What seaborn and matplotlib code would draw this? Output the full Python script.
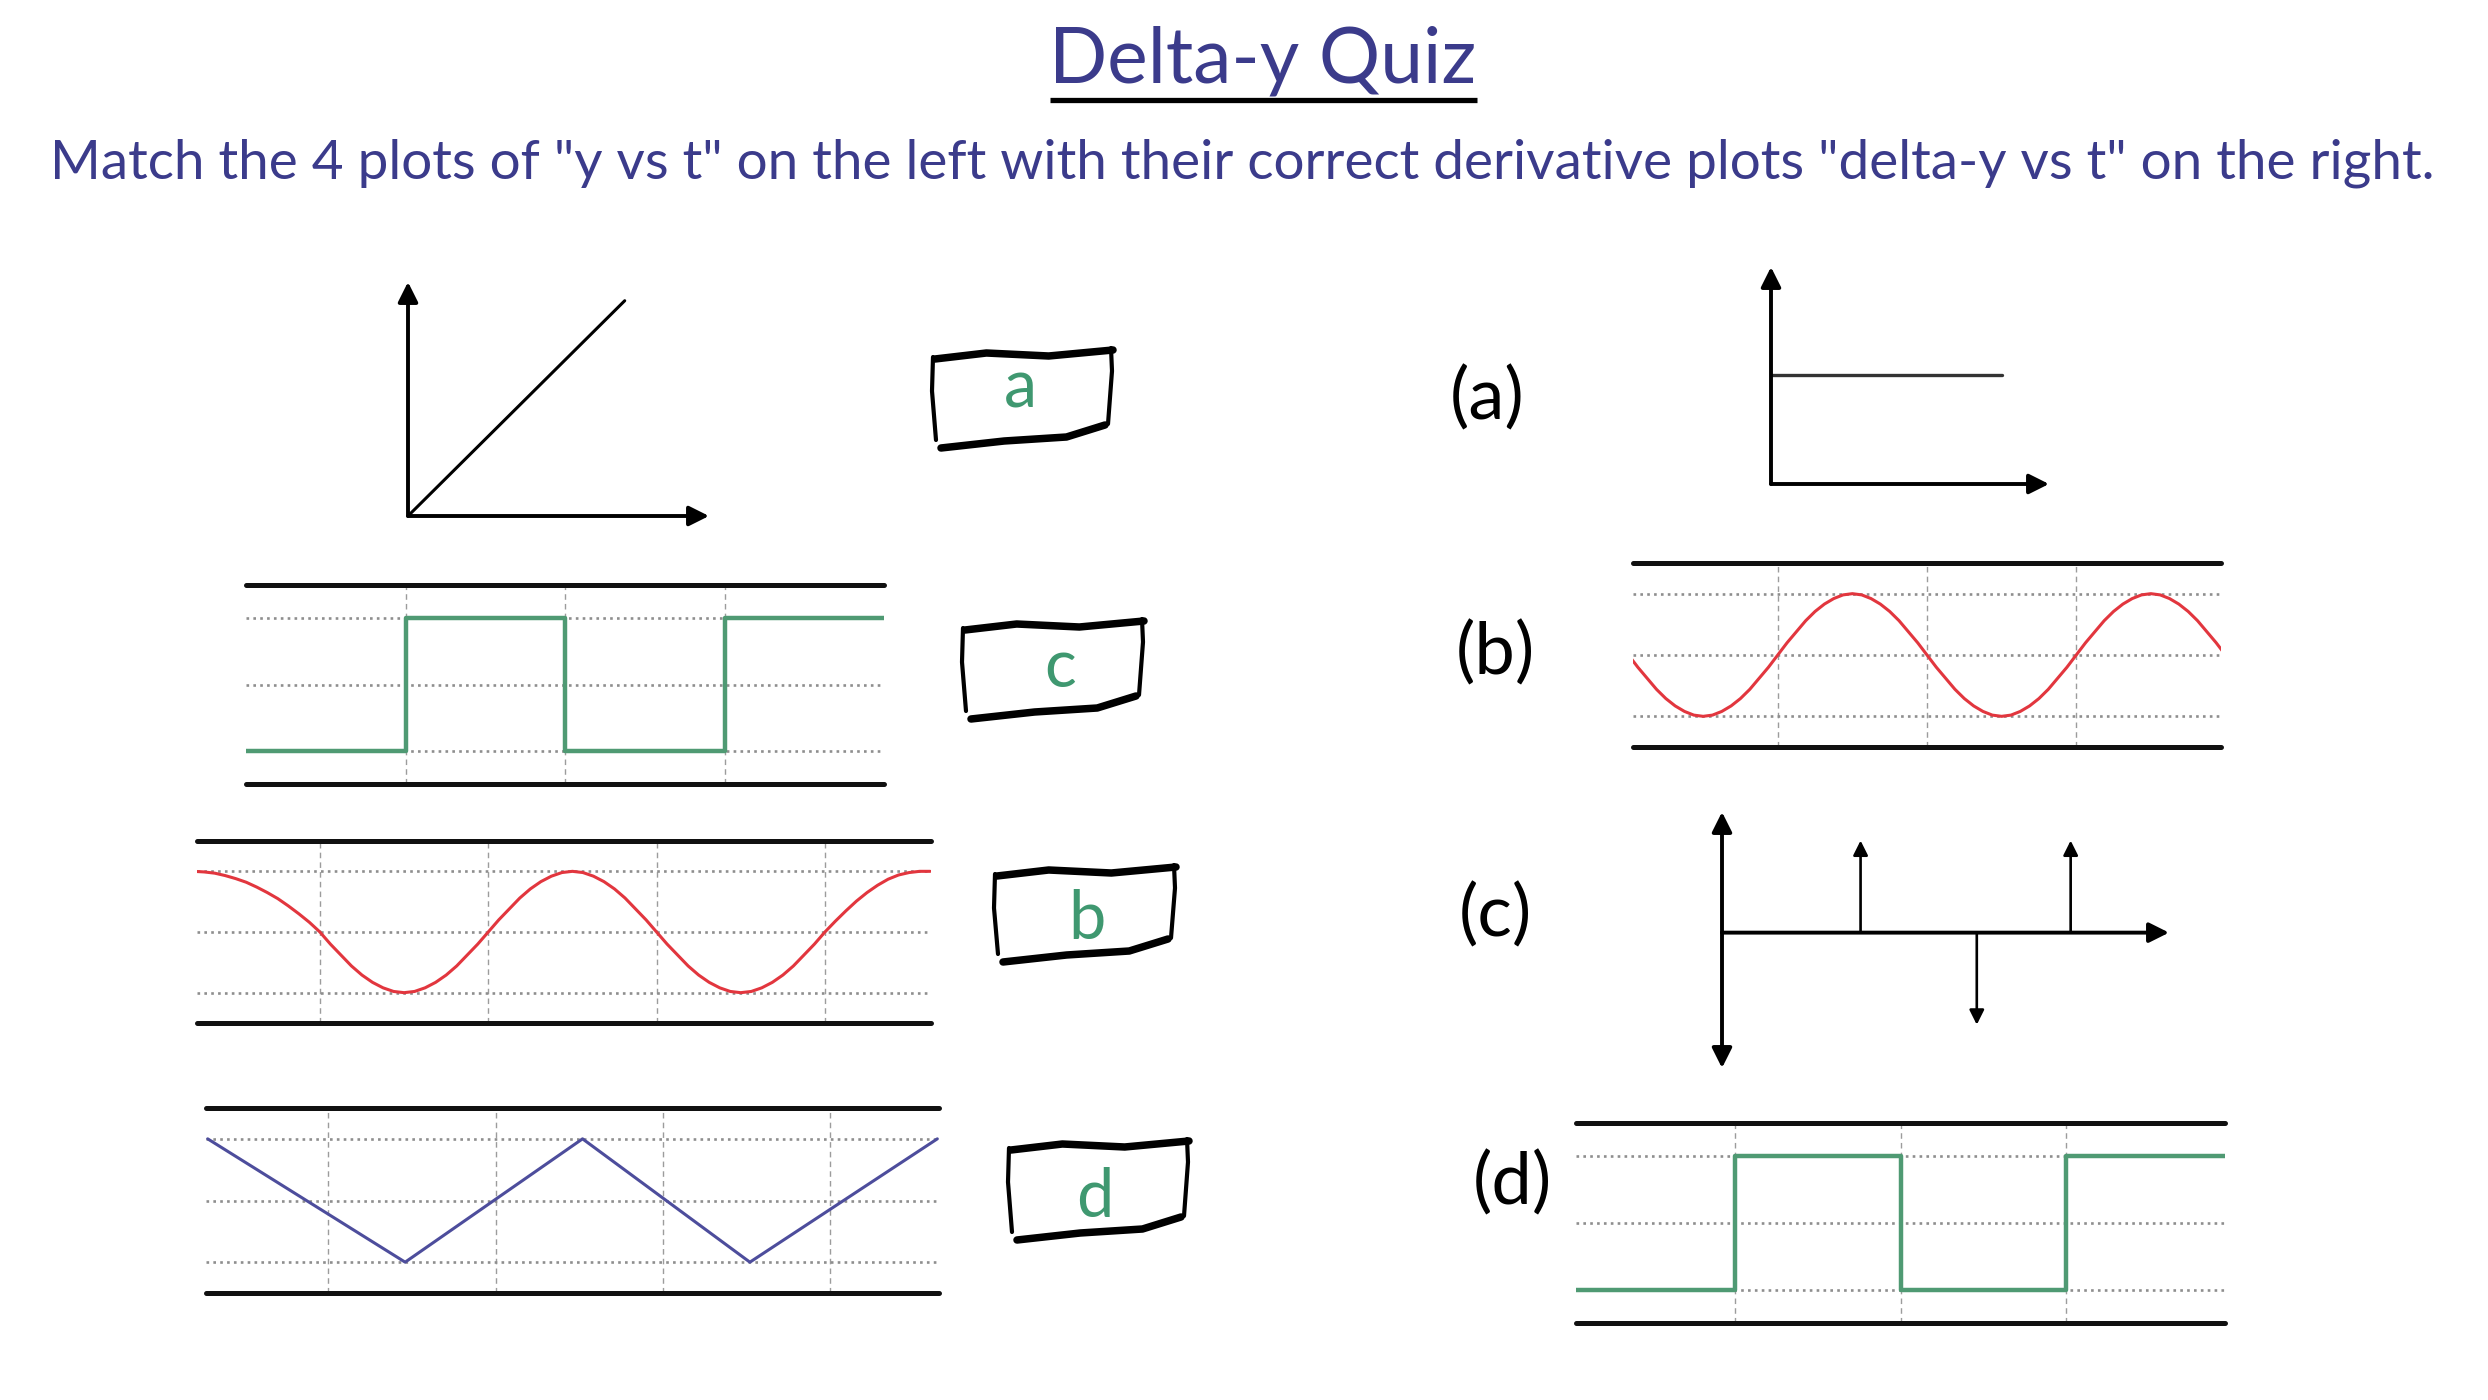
import matplotlib
matplotlib.use("Agg")
import matplotlib.pyplot as plt
import seaborn as sns
from matplotlib.lines import Line2D

# ---------------- data ----------------
TITLE = "Delta-y Quiz"
SUBTITLE = ('Match the 4 plots of "y vs t" on the left with their correct '
            'derivative plots "delta-y vs t" on the right.')
BOX_LETTERS = ["a", "c", "b", "d"]
RIGHT_LABELS = ["(a)", "(b)", "(c)", "(d)"]

# left column: y vs t
lin_t = [0.0, 0.72]
lin_y = [0.0, 0.92]

sq_t = [-1, 0, 1, 2, 3]
sq_y = [-1, 1, -1, 1, 1]

redL_t = [-0.75, -0.6875, -0.625, -0.5625, -0.5, -0.4375, -0.375, -0.3125,
          -0.25, -0.1875, -0.125, -0.0625,
          0.0, 0.0625, 0.125, 0.1875, 0.25, 0.3125, 0.375, 0.4375,
          0.5, 0.5625, 0.625, 0.6875, 0.75, 0.8125, 0.875, 0.9375,
          1.0, 1.0625, 1.125, 1.1875, 1.25, 1.3125, 1.375, 1.4375,
          1.5, 1.5625, 1.625, 1.6875, 1.75, 1.8125, 1.875, 1.9375,
          2.0, 2.0625, 2.125, 2.1875, 2.25, 2.3125, 2.375, 2.4375,
          2.5, 2.5625, 2.625, 2.6875, 2.75, 2.8125, 2.875, 2.9375,
          3.0, 3.0625, 3.125, 3.1875, 3.25, 3.3125, 3.375, 3.4375,
          3.5, 3.5625, 3.625]
redL_y = [1.00, 0.99, 0.97, 0.93, 0.88, 0.82, 0.74, 0.65,
          0.55, 0.43, 0.30, 0.16,
          0.00, -0.20, -0.38, -0.56, -0.71, -0.83, -0.92, -0.98,
          -1.00, -0.98, -0.92, -0.83, -0.71, -0.56, -0.38, -0.20,
          0.00, 0.20, 0.38, 0.56, 0.71, 0.83, 0.92, 0.98,
          1.00, 0.98, 0.92, 0.83, 0.71, 0.56, 0.38, 0.20,
          0.00, -0.20, -0.38, -0.56, -0.71, -0.83, -0.92, -0.98,
          -1.00, -0.98, -0.92, -0.83, -0.71, -0.56, -0.38, -0.20,
          0.00, 0.18, 0.35, 0.51, 0.65, 0.77, 0.87, 0.94,
          0.98, 1.00, 1.00]

tri_t = [-0.72, 0.46, 1.52, 2.52, 3.64]
tri_y = [1, -1, 1, -1, 1]

# right column: delta-y vs t
const_t = [0.0, 0.83]
const_y = [0.5, 0.5]

redR_t = [-1.0, -0.9375, -0.875, -0.8125, -0.75, -0.6875, -0.625, -0.5625,
          -0.5, -0.4375, -0.375, -0.3125, -0.25, -0.1875, -0.125, -0.0625,
          0.0, 0.0625, 0.125, 0.1875, 0.25, 0.3125, 0.375, 0.4375,
          0.5, 0.5625, 0.625, 0.6875, 0.75, 0.8125, 0.875, 0.9375,
          1.0, 1.0625, 1.125, 1.1875, 1.25, 1.3125, 1.375, 1.4375,
          1.5, 1.5625, 1.625, 1.6875, 1.75, 1.8125, 1.875, 1.9375,
          2.0, 2.0625, 2.125, 2.1875, 2.25, 2.3125, 2.375, 2.4375,
          2.5, 2.5625, 2.625, 2.6875, 2.75, 2.8125, 2.875, 2.9375, 3.0]
redR_y = [0.00, -0.20, -0.38, -0.56, -0.71, -0.83, -0.92, -0.98,
          -1.00, -0.98, -0.92, -0.83, -0.71, -0.56, -0.38, -0.20,
          0.00, 0.20, 0.38, 0.56, 0.71, 0.83, 0.92, 0.98,
          1.00, 0.98, 0.92, 0.83, 0.71, 0.56, 0.38, 0.20,
          0.00, -0.20, -0.38, -0.56, -0.71, -0.83, -0.92, -0.98,
          -1.00, -0.98, -0.92, -0.83, -0.71, -0.56, -0.38, -0.20,
          0.00, 0.20, 0.38, 0.56, 0.71, 0.83, 0.92, 0.98,
          1.00, 0.98, 0.92, 0.83, 0.71, 0.56, 0.38, 0.20, 0.00]

imp_t = [0.31, 0.57, 0.78]
imp_y = [1, -1, 1]

# ---------------- style ----------------
sns.set_theme(style="white")
plt.rcParams['font.family'] = ['DejaVu Sans']

W, H = 2488, 1400
fig = plt.figure(figsize=(W / 100, H / 100), dpi=100)
fig.patch.set_facecolor("white")

GREEN = "#4f9a73"
GREEN_TXT = "#3f9870"
RED = "#e2363e"
BLUE = "#4d4d9c"
INK = "#3b3b8b"
GRID = "#9c9c9c"


def add_ax(x0, x1, ytop, ybot):
    ax = fig.add_axes([x0 / W, 1 - ybot / H, (x1 - x0) / W, (ybot - ytop) / H])
    ax.set_axis_off()
    ax.patch.set_alpha(0)
    return ax


def band(ax, xlim, vgrid):
    ax.set_xlim(*xlim)
    ax.set_ylim(-1.5, 1.5)
    for v in vgrid:
        ax.axvline(v, color=GRID, lw=1.0, ls=(0, (4, 3)), zorder=1)
    for h in (-1, 0, 1):
        ax.axhline(h, color="#8e8e8e", lw=1.9, ls=(0, (1, 1.6)), zorder=1)
    for h in (-1.5, 1.5):
        ax.axhline(h, color="#111111", lw=3.6, clip_on=False, zorder=3)


def arrow(ax, p0, p1, lw=2.8, ms=30):
    ax.annotate("", xy=p1, xytext=p0, xycoords="data", annotation_clip=False,
                arrowprops=dict(arrowstyle="-|>", color="black", lw=lw,
                                mutation_scale=ms, shrinkA=0, shrinkB=0))


def line(ax, x, y, color, lw, **kw):
    sns.lineplot(x=x, y=y, ax=ax, color=color, lw=lw, sort=False,
                 estimator=None, legend=False, **kw)
    ax.set_axis_off()


# ---- left 1: linear ----
ax = add_ax(408, 709, 282, 516)
ax.set_xlim(0, 1); ax.set_ylim(0, 1)
line(ax, lin_t, lin_y, "black", 2.2)
arrow(ax, (0, 0), (1, 0))
arrow(ax, (0, 0), (0, 1))

# ---- left 2: square wave ----
ax = add_ax(246, 884, 585, 784)
band(ax, (-1, 3), [0, 1, 2])
line(ax, sq_t, sq_y, GREEN, 3.2, drawstyle="steps-post")

# ---- left 3: red wave ----
ax = add_ax(197, 931, 841, 1023)
band(ax, (-0.73, 3.63), [0, 1, 2, 3])
line(ax, redL_t, redL_y, RED, 2.2)

# ---- left 4: triangle ----
ax = add_ax(206, 939, 1108, 1293)
band(ax, (-0.73, 3.65), [0, 1, 2, 3])
line(ax, tri_t, tri_y, BLUE, 2.2)

# ---- right (a): constant ----
ax = add_ax(1771, 2049, 267, 484)
ax.set_xlim(0, 1); ax.set_ylim(0, 1)
line(ax, const_t, const_y, "#333333", 2.4)
arrow(ax, (0, 0), (1, 0))
arrow(ax, (0, 0), (0, 1))

# ---- right (b): red wave ----
ax = add_ax(1633, 2221, 563, 747)
band(ax, (-0.97, 2.97), [0, 1, 2])
line(ax, redR_t, redR_y, RED, 2.2)

# ---- right (c): impulses ----
ax = add_ax(1722, 2169, 812, 1068)
ax.set_xlim(0, 1); ax.set_ylim(-1.47, 1.31)
arrow(ax, (0, 0), (1, 0))
arrow(ax, (0, 0), (0, 1.31))
arrow(ax, (0, 0), (0, -1.47))
for t, v in zip(imp_t, imp_y):
    arrow(ax, (t, 0), (t, v), lw=1.9, ms=22)

# ---- right (d): square wave ----
ax = add_ax(1576, 2225, 1123, 1323)
band(ax, (-0.96, 2.96), [0, 1, 2])
line(ax, sq_t, sq_y, GREEN, 3.2, drawstyle="steps-post")

# ---------------- text ----------------
renderer = fig.canvas.get_renderer()


def fit_text(x, y, s, width_px, size0, **kw):
    t = fig.text(x / W, 1 - y / H, s, fontsize=size0, **kw)
    bb = t.get_window_extent(renderer=renderer)
    t.set_fontsize(size0 * width_px / bb.width)
    return t


fit_text(1263, 83, TITLE, 427, 40, ha="center", va="baseline", color=INK,
         family=["Lato", "DejaVu Sans"], fontweight="normal")
fig.add_artist(Line2D([1050 / W, 1477 / W], [1 - 100 / H, 1 - 100 / H],
                      color="black", lw=3.8, solid_capstyle="butt"))
fit_text(1242, 179, SUBTITLE, 2388, 28, ha="center", va="baseline", color=INK,
         family=["Lato", "DejaVu Sans"], fontweight="normal")

for lab, (x, y) in zip(RIGHT_LABELS, [(1487, 398), (1495, 653), (1495, 915), (1512, 1183)]):
    fig.text(x / W, 1 - y / H, lab, fontsize=52, ha="center", va="center", color="black",
             family=["Lato", "DejaVu Sans"])

# hand-drawn boxes with green letters
boxes = [(933, 351, 1111, 446), (963, 622, 1142, 717), (995, 868, 1174, 960), (1009, 1142, 1187, 1238)]
letter_pos = [(1020, 389), (1060, 668), (1087, 920), (1095, 1198)]


def P(x, y):
    return x / W, 1 - y / H


def hand_box(x0, y0, x1, y1):
    w = x1 - x0
    segs = [
        ([(x0 + 2, y0 + 8), (x0 + 0.3 * w, y0 + 2), (x0 + 0.65 * w, y0 + 5), (x1 + 2, y0 - 1)], 5.4),
        ([(x1, y0 - 3), (x1 + 1, y0 + 20), (x1 - 3, y1 - 22)], 3.0),
        ([(x0 + 8, y1 + 2), (x0 + 0.4 * w, y1 - 5), (x0 + 0.75 * w, y1 - 9), (x1 - 6, y1 - 21)], 5.4),
        ([(x0, y0 + 6), (x0 - 1, y0 + 40), (x0 + 3, y1 - 6)], 3.0),
    ]
    for pts, lw in segs:
        xs, ys = zip(*[P(*p) for p in pts])
        fig.add_artist(Line2D(xs, ys, color="black", lw=lw, solid_capstyle="round",
                              solid_joinstyle="round"))


for (b, lp, s) in zip(boxes, letter_pos, BOX_LETTERS):
    hand_box(*b)
    fig.text(lp[0] / W, 1 - lp[1] / H, s, fontsize=48, ha="center", va="center",
             color=GREEN_TXT, family=["Lato", "DejaVu Sans"])

fig.savefig("out.png", dpi=100, facecolor="white")
